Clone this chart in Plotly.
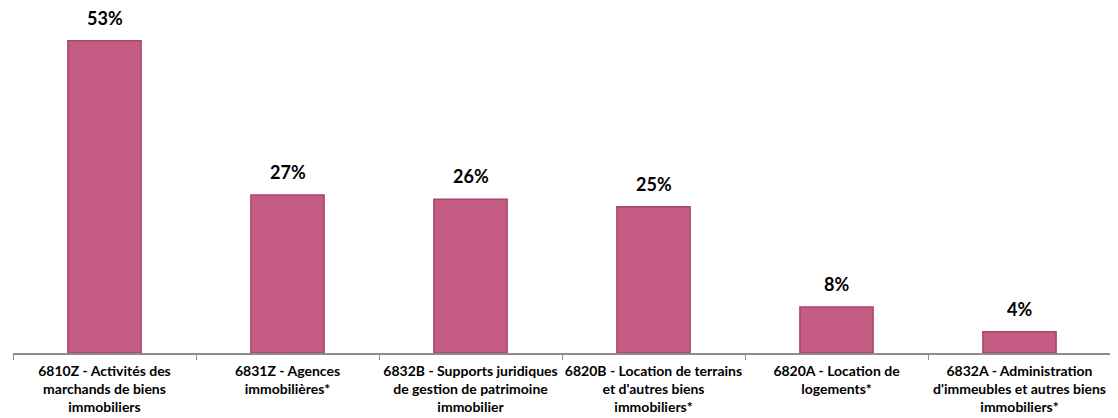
import plotly.graph_objects as go

categories = [
    "6810Z - Activités des<br>marchands de biens<br>immobiliers",
    "6831Z - Agences<br>immobilières*",
    "6832B - Supports juridiques<br>de gestion de patrimoine<br>immobilier",
    "6820B - Location de terrains<br>et d'autres biens<br>immobiliers*",
    "6820A - Location de<br>logements*",
    "6832A - Administration<br>d'immeubles et autres biens<br>immobiliers*",
]
values = [53.0, 26.8, 26.1, 24.8, 7.8, 3.6]
labels = ["53%", "27%", "26%", "25%", "8%", "4%"]

FONT = "Lato, 'Open Sans', sans-serif"

fig = go.Figure()
fig.add_trace(go.Bar(
    x=categories, y=values,
    width=0.4,
    marker=dict(color="#C55C84", line=dict(color="#A8456C", width=1.5)),
    hoverinfo="skip",
))
for c, v, t in zip(categories, values, labels):
    fig.add_annotation(x=c, y=v, text=t, showarrow=False, yanchor="bottom",
                       yshift=10, font=dict(family=FONT, size=18, color="#000000", weight="bold"))

fig.update_layout(
    width=1118, height=418,
    margin=dict(l=5, r=15, t=2, b=73),
    plot_bgcolor="white", paper_bgcolor="white",
    showlegend=False,
    xaxis=dict(showline=True, linecolor="#8c8c8c", linewidth=1.5,
               ticks="outside", tickson="boundaries", ticklen=5, tickcolor="#8c8c8c",
               tickangle=0, ticklabelstandoff=4,
               tickfont=dict(family=FONT, size=14, color="#000000", weight="bold"),
               showgrid=False, automargin=False),
    yaxis=dict(range=[0, 58.2], visible=False, showgrid=False, automargin=False),
)
fig.write_html("out.html")
